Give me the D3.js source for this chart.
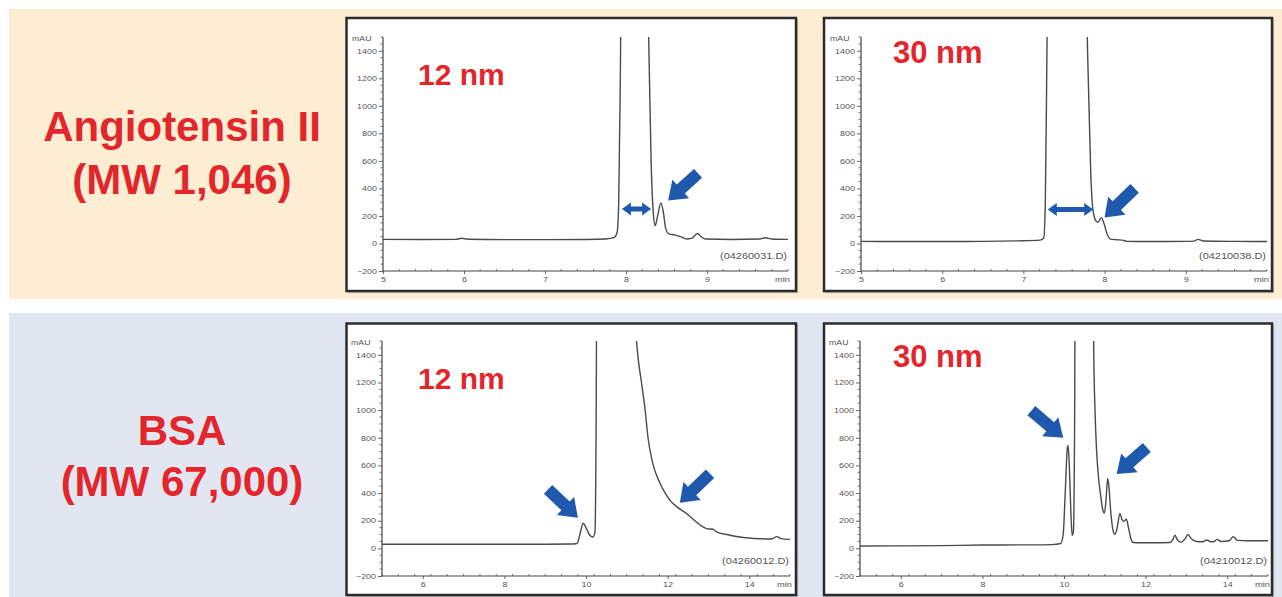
<!DOCTYPE html>
<html>
<head>
<meta charset="utf-8">
<script src="https://cdn.jsdelivr.net/npm/d3@7/dist/d3.min.js"></script>
<style>
  html, body { margin: 0; padding: 0; background: #ffffff; }
  svg { display: block; }
</style>
</head>
<body>
<svg id="chart" width="1282" height="597"></svg>
<script>
// ---------------- DATA ----------------
const rowTitles = [["Angiotensin II", "(MW 1,046)"], ["BSA", "(MW 67,000)"]];
const poreLabels = ["12 nm", "30 nm", "12 nm", "30 nm"];
const fileLabels = ["(04260031.D)", "(04210038.D)", "(04260012.D)", "(04210012.D)"];
const yTicks = [-200, 0, 200, 400, 600, 800, 1000, 1200, 1400];
const xTicksAngio = [5, 6, 7, 8, 9];
const xTicksBSA = [6, 8, 10, 12, 14];
const yUnit = "mAU";
const xUnit = "min";

// chromatograms: [time (min), absorbance (mAU)]
const angio12 = [[5.00,30],[5.50,29],[5.90,30],[5.97,38],[6.05,31],[6.50,28],[7.00,28],[7.50,29],[7.75,33],[7.85,42],[7.89,80],[7.91,300],[7.93,1200],[7.95,2500],[8.25,2500],[8.28,1500],[8.31,600],[8.34,200],[8.36,130],[8.39,200],[8.43,295],[8.46,230],[8.49,110],[8.53,70],[8.60,62],[8.68,48],[8.76,32],[8.82,40],[8.88,72],[8.93,48],[8.98,32],[9.30,29],[9.65,32],[9.72,42],[9.80,33],[10.0,30]];
const angio30 = [[5.0,15],[5.5,14],[6.0,14],[6.5,15],[7.0,20],[7.2,24],[7.25,40],[7.27,300],[7.29,1400],[7.31,2500],[7.76,2500],[7.79,1400],[7.83,500],[7.86,230],[7.90,160],[7.92,155],[7.96,188],[7.99,150],[8.03,70],[8.07,32],[8.15,27],[8.22,24],[8.28,15],[8.6,14],[9.0,15],[9.10,17],[9.15,30],[9.22,18],[9.6,15],[10.0,14]];
const bsa12 = [[5.0,30],[6.0,30],[7.0,30],[8.0,30],[9.0,30],[9.6,31],[9.78,35],[9.85,100],[9.93,182],[10.0,150],[10.08,100],[10.17,82],[10.22,120],[10.25,1000],[10.27,2500],[11.18,2500],[11.22,1600],[11.27,1400],[11.36,1200],[11.45,1000],[11.52,800],[11.65,600],[11.80,480],[11.94,400],[12.08,340],[12.23,300],[12.47,250],[12.67,200],[12.87,155],[13.0,140],[13.1,140],[13.2,120],[13.45,100],[13.77,82],[14.0,75],[14.26,70],[14.55,68],[14.68,85],[14.78,70],[15.0,65]];
const bsa30 = [[5.0,17],[6.0,18],[7.0,20],[8.0,24],[9.0,25],[9.7,27],[9.92,35],[9.98,100],[10.03,400],[10.08,720],[10.10,745],[10.13,600],[10.17,250],[10.20,95],[10.23,120],[10.26,900],[10.28,2500],[10.70,2500],[10.73,1400],[10.76,1000],[10.80,700],[10.85,500],[10.90,380],[10.95,280],[10.99,255],[11.03,350],[11.07,505],[11.10,450],[11.15,250],[11.21,120],[11.25,100],[11.31,160],[11.37,252],[11.42,210],[11.46,195],[11.53,210],[11.58,150],[11.64,70],[11.70,42],[11.85,40],[12.2,40],[12.6,42],[12.67,65],[12.72,95],[12.78,60],[12.87,45],[12.97,70],[13.04,100],[13.12,70],[13.25,50],[13.4,48],[13.5,60],[13.6,48],[13.68,50],[13.75,65],[13.85,50],[14.05,55],[14.15,85],[14.25,58],[14.5,55],[15.0,55]];

// annotation arrows: [tailTime, tailValue, tipTime, tipValue]
const singleArrows = [
  [[8.89, 509, 8.52, 313]],
  [[8.37, 400, 8.00, 189]],
  [[9.07, 427, 9.80, 222], [13.04, 540, 12.30, 330]],
  [[9.20, 996, 9.98, 800], [12.03, 729, 11.29, 538]]
];
// double arrows: [fromTime, toTime, value]
const doubleArrows = [
  [[7.95, 8.31, 250]],
  [[7.30, 7.86, 247]],
  [],
  []
];

// ---------------- LAYOUT ----------------
const svg = d3.select("#chart");
const RED = "#e3262b";
const BLUE = "#1f59ad";
const font = "'Liberation Sans', Arial, Helvetica, sans-serif";
const TICK_FILL = "#555555";

// background bands
svg.append("rect").attr("x", 9).attr("y", 9).attr("width", 1273).attr("height", 290).attr("fill", "#fdeed3");
svg.append("rect").attr("x", 9).attr("y", 313).attr("width", 1273).attr("height", 284).attr("fill", "#e1e6f0");

// row titles
const titleY = [[141, 194], [445, 496]];
rowTitles.forEach((lines, r) => {
  lines.forEach((t, i) => {
    svg.append("text").attr("x", 182).attr("y", titleY[r][i])
      .attr("text-anchor", "middle").attr("font-family", font)
      .attr("font-weight", "bold").attr("font-size", 42).attr("fill", RED)
      .text(t);
  });
});

const panels = [
  { data: angio12, xd: [5, 10], xr: [383, 788], yr: [271, 37], frame: [346.5, 18, 449.5, 273], xt: xTicksAngio, minorX: 0.2, label: [418, 85, 30] },
  { data: angio30, xd: [5, 10], xr: [861, 1267], yr: [271, 37], frame: [824, 18, 448, 273], xt: xTicksAngio, minorX: 0.2, label: [893, 63, 31] },
  { data: bsa12, xd: [5, 15], xr: [382, 790], yr: [576, 341], frame: [346.5, 323.5, 449.5, 271.5], xt: xTicksBSA, minorX: 0.4, label: [418, 389, 30] },
  { data: bsa30, xd: [5, 15], xr: [860, 1268], yr: [576, 341], frame: [824, 323.5, 448, 271.5], xt: xTicksBSA, minorX: 0.4, label: [893, 367, 31] }
];

function blockArrow(x1, y1, x2, y2, shaftHW, headHW, headLen) {
  const dx = x2 - x1, dy = y2 - y1, L = Math.hypot(dx, dy);
  const ux = dx / L, uy = dy / L, nx = -uy, ny = ux;
  const bx = x2 - ux * headLen, by = y2 - uy * headLen;
  const p = [
    [x1 + nx * shaftHW, y1 + ny * shaftHW],
    [bx + nx * shaftHW, by + ny * shaftHW],
    [bx + nx * headHW, by + ny * headHW],
    [x2, y2],
    [bx - nx * headHW, by - ny * headHW],
    [bx - nx * shaftHW, by - ny * shaftHW],
    [x1 - nx * shaftHW, y1 - ny * shaftHW]
  ];
  return "M" + p.map(q => q.join(",")).join("L") + "Z";
}
function doubleBlockArrow(x1, x2, y, shaftHW, headHW, headLen) {
  const p = [
    [x1, y], [x1 + headLen, y - headHW], [x1 + headLen, y - shaftHW],
    [x2 - headLen, y - shaftHW], [x2 - headLen, y - headHW], [x2, y],
    [x2 - headLen, y + headHW], [x2 - headLen, y + shaftHW],
    [x1 + headLen, y + shaftHW], [x1 + headLen, y + headHW]
  ];
  return "M" + p.map(q => q.join(",")).join("L") + "Z";
}
// small, horizontally stretched instrument-style text
function smallText(sel, perChar) {
  sel.attr("font-family", font).attr("font-size", 7).attr("fill", TICK_FILL)
    .attr("lengthAdjust", "spacingAndGlyphs")
    .attr("textLength", function () { return this.textContent.length * perChar; });
}

panels.forEach((P, i) => {
  const g = svg.append("g");
  const [fx, fy, fw, fh] = P.frame;
  g.append("rect").attr("x", fx + 1.5).attr("y", fy + 1.5).attr("width", fw).attr("height", fh)
    .attr("fill", "none").attr("stroke", "#999").attr("stroke-width", 1.5).attr("opacity", 0.5);
  g.append("rect").attr("x", fx).attr("y", fy).attr("width", fw).attr("height", fh)
    .attr("fill", "#ffffff").attr("stroke", "#2b2b2b").attr("stroke-width", 2.5);

  const x = d3.scaleLinear().domain(P.xd).range(P.xr);
  const y = d3.scaleLinear().domain([-200, 1500]).range(P.yr);

  // pore size label
  g.append("text").attr("x", P.label[0]).attr("y", P.label[1])
    .attr("font-family", font).attr("font-weight", "bold").attr("font-size", P.label[2])
    .attr("fill", RED).text(poreLabels[i]);

  // y axis
  const yAx = g.append("g").attr("transform", `translate(${P.xr[0]},0)`)
    .call(d3.axisLeft(y).tickValues(yTicks).tickSize(4).tickPadding(2).tickFormat(d3.format("d")));
  const yMinor = d3.range(-200, 1501, 50).filter(v => v % 200 !== 0);
  yAx.selectAll(".minor").data(yMinor).enter().append("line").attr("class", "minor")
    .attr("x1", -2.5).attr("x2", 0).attr("y1", d => y(d)).attr("y2", d => y(d))
    .attr("stroke", "#555").attr("stroke-width", 0.8);
  // x axis at -200
  const xAx = g.append("g").attr("transform", `translate(0,${y(-200)})`)
    .call(d3.axisBottom(x).tickValues(P.xt).tickSize(3).tickPadding(3).tickFormat(d3.format("d")));
  const xMinor = d3.range(P.xd[0], P.xd[1] + 0.001, P.minorX).filter(v => !P.xt.some(t => Math.abs(t - v) < 1e-6));
  xAx.selectAll(".minor").data(xMinor).enter().append("line").attr("class", "minor")
    .attr("x1", d => x(d)).attr("x2", d => x(d)).attr("y1", -2).attr("y2", 0)
    .attr("stroke", "#555").attr("stroke-width", 0.8);
  [yAx, xAx].forEach(a => {
    a.select(".domain").attr("stroke", "#444").attr("stroke-width", 1.2);
    a.selectAll(".tick line").attr("stroke", "#555").attr("stroke-width", 0.9);
    smallText(a.selectAll(".tick text"), 5);
  });
  yAx.select(".domain").attr("d", `M0,${y(-200)}V${y(1500)}`);
  xAx.select(".domain").attr("d", `M${x(P.xd[0])},0H${x(P.xd[1])}`);

  smallText(g.append("text").attr("x", P.xr[0] - 31).attr("y", y(1500) + 4).text(yUnit), 6.5);
  smallText(g.append("text").attr("x", x(P.xd[1]) + 2).attr("y", y(-200) + 11).attr("text-anchor", "end").text(xUnit), 5);
  g.append("text").attr("x", x(P.xd[1]) - 1).attr("y", y(-200) - 12).attr("text-anchor", "end")
    .attr("font-family", font).attr("font-size", 8.5).attr("fill", TICK_FILL)
    .attr("lengthAdjust", "spacingAndGlyphs").attr("textLength", 67)
    .text(fileLabels[i]);

  // clip for off-scale peaks
  const clipId = "clip" + i;
  svg.append("clipPath").attr("id", clipId).append("rect")
    .attr("x", P.xr[0]).attr("y", y(1500)).attr("width", P.xr[1] - P.xr[0]).attr("height", y(-200) - y(1500));
  const line = d3.line().x(d => x(d[0])).y(d => y(d[1])).curve(d3.curveMonotoneX);
  g.append("path").datum(P.data).attr("d", line).attr("clip-path", `url(#${clipId})`)
    .attr("fill", "none").attr("stroke", "#4a4a4a").attr("stroke-width", 1.4).attr("stroke-linejoin", "round");

  // arrows
  singleArrows[i].forEach(a => {
    g.append("path").attr("d", blockArrow(x(a[0]), y(a[1]), x(a[2]), y(a[3]), 6, 12.5, 17)).attr("fill", BLUE);
  });
  doubleArrows[i].forEach(a => {
    g.append("path").attr("d", doubleBlockArrow(x(a[0]), x(a[1]), y(a[2]), 2.5, 6.5, 9)).attr("fill", BLUE);
  });
});
</script>
</body>
</html>
